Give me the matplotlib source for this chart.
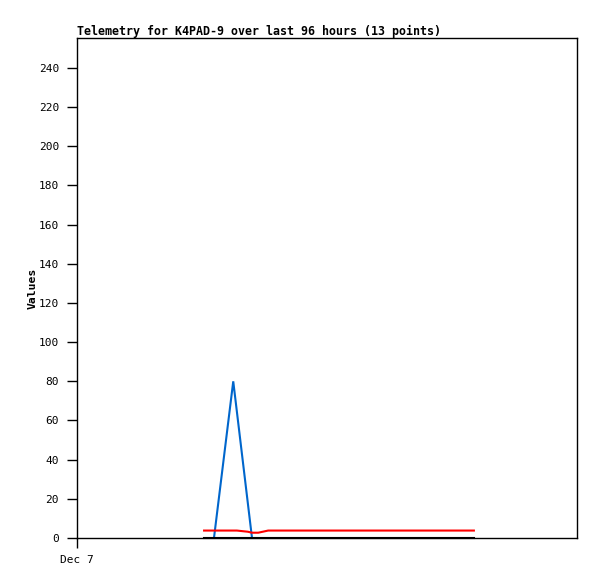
import numpy as np
import pandas as pd
import matplotlib
matplotlib.use('Agg')
import matplotlib.pyplot as plt

# hours since Dec 7 00:00
hours = [24.4, 26.3, 30.0, 30.7, 32.8, 33.6, 34.8, 36.7, 45.0, 55.0, 62.0, 70.0, 76.2]
red_vals = [3.8, 3.8, 3.8, 3.8, 3.2, 2.7, 2.7, 3.8, 3.8, 3.8, 3.8, 3.8, 3.8]
blue_vals = [np.nan, 0, 80, np.nan, np.nan, 0, np.nan, np.nan, np.nan, np.nan, np.nan, np.nan, np.nan]
black_vals = [0, 0, 0, 0, 0, 0, 0, 0, 0, 0, 0, 0, 0]
yticks = list(range(0, 241, 20))
xtick_labels = ['Dec 7']

df = pd.DataFrame({'h': hours, 'red': red_vals, 'blue': blue_vals, 'black': black_vals})

W, H = 597, 579
fig = plt.figure(figsize=(W / 100, H / 100), dpi=100)
ax = fig.add_axes([77 / W, (H - 538) / H, 500 / W, 500 / H])

mono = 'DejaVu Sans Mono'

b = df.dropna(subset=['blue'])
ax.plot(b['h'], b['blue'], color='#0066cc', lw=1.5, solid_joinstyle='miter')
ax.plot(df['h'], df['red'], color='#ff0000', lw=1.5)
ax.plot(df['h'], df['black'], color='black', lw=1.5, clip_on=False, zorder=3)

ax.set_xlim(0, 96)
ax.set_ylim(0, 255.3)
ax.set_yticks(yticks)
ax.set_yticklabels([str(v) for v in yticks], family=mono, fontsize=8)
ax.set_xticks([0])
ax.set_xticklabels(xtick_labels, family=mono, fontsize=8)
ax.tick_params(axis='y', direction='out', length=7, width=1, pad=6)
ax.tick_params(axis='x', direction='out', length=7, width=1, pad=5)
for s in ax.spines.values():
    s.set_linewidth(1)

ax.set_ylabel('Values', family=mono, fontsize=8.2, fontweight='bold', labelpad=1)
fig.text(77 / W, 1 - 31 / H, 'Telemetry for K4PAD-9 over last 96 hours (13 points)',
         family=mono, fontsize=8.4, fontweight='bold', ha='left', va='center')

plt.savefig('out.png', dpi=100)
